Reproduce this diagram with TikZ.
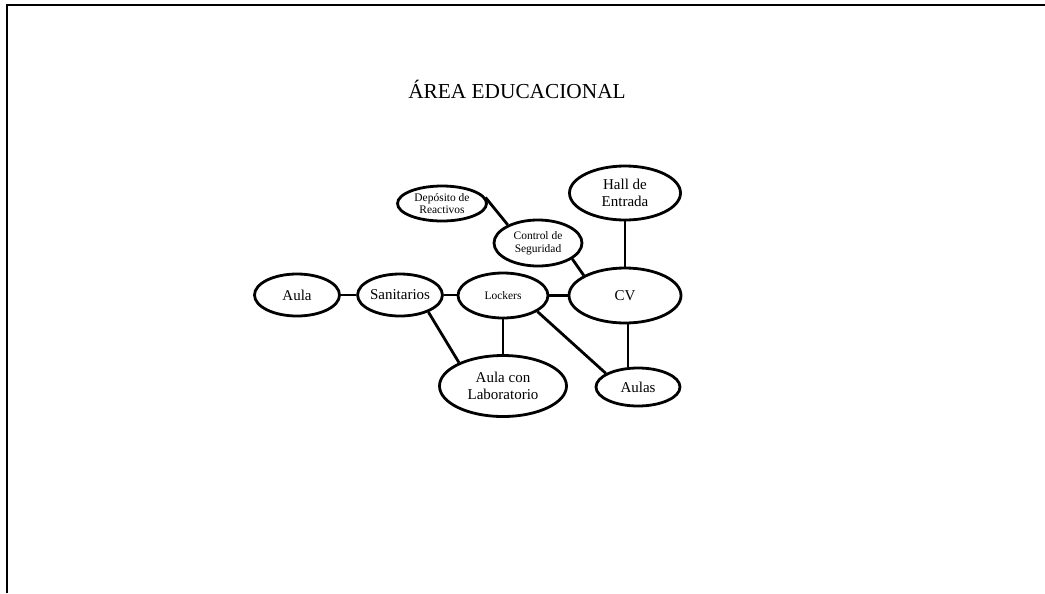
\documentclass[tikz,border=0pt]{standalone}
\usepackage{fontspec}
\setmainfont{Liberation Serif}
\usetikzlibrary{shapes.geometric}
\begin{document}
\begin{tikzpicture}[x=0.75pt,y=-0.75pt,
  room/.style={ellipse,draw,line width=2.1pt,inner sep=0pt,align=center,
    font=\fontsize{11.25pt}{12.75pt}\selectfont},
  smallroom/.style={room,font=\fontsize{8.6pt}{9.5pt}\selectfont},
  link/.style={line width=2.1pt},
  frameline/.style={line width=1.3pt}]
\useasboundingbox (0,0) rectangle (1045,593);
\coordinate (fc) at (6.8,5.2);
\coordinate (ftr) at (1045,5.2);
\coordinate (fbl) at (6.8,593);
\draw[frameline] (fbl) -- (fc) -- (ftr);
\node[anchor=base,font=\fontsize{16pt}{19pt}\selectfont] (title) at (517,98) {ÁREA EDUCACIONAL};
\node[room,minimum width=63.75pt,minimum height=31.5pt] (aula) at (297,295) {Aula};
\node[room,minimum width=62.25pt,minimum height=31.5pt] (san) at (400,295) {Sanitarios};
\node[smallroom,minimum width=67.5pt,minimum height=33.75pt] (lock) at (503,295.5) {Lockers};
\node[room,minimum width=84pt,minimum height=41.25pt] (cv) at (625,295.5) {CV};
\node[room,minimum width=83.25pt,minimum height=40.5pt] (hall) at (625,193) {Hall de\\Entrada};
\node[smallroom,minimum width=66.75pt,minimum height=26.25pt] (dep) at (442,203.5) {Depósito de\\Reactivos};
\node[smallroom,minimum width=66pt,minimum height=34.5pt] (ctrl) at (538,243) {Control de\\Seguridad};
\node[room,minimum width=95.25pt,minimum height=45.75pt] (lab) at (503,386) {Aula con\\Laboratorio};
\node[room,minimum width=63pt,minimum height=28.5pt] (aulas) at (638,387) {Aulas};
\draw[link] (aula.east) -- (san.west);
\draw[link] (san.east) -- (san.east -| lock.west);
\draw[link] (lock.east) -- (cv.west);
\draw[link] (hall.south) -- (cv.north);
\draw[link] ([xshift=2.25pt]cv.south) -- ([xshift=2.25pt]cv.south |- aulas.north);
\draw[link] (lock.south) -- (lab.north);
\draw[link] (san.-31) -- (lab.152);
\draw[link] (lock.-25) -- (aulas.157);
\draw[link] (dep.8) -- (ctrl.149);
\draw[link] (ctrl.-25) -- (cv.154);
\end{tikzpicture}
\end{document}
